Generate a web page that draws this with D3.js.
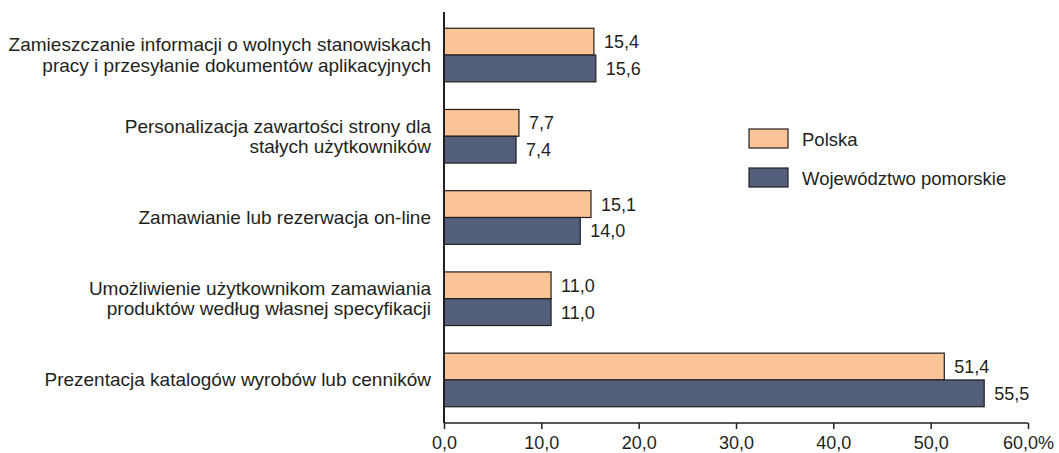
<!DOCTYPE html>
<html>
<head>
<meta charset="utf-8">
<script src="https://cdn.jsdelivr.net/npm/d3@7"></script>
<style>
  body { margin: 0; background: #fff; }
  text { font-family: "Liberation Sans", Arial, sans-serif; fill: #231f20; }
</style>
</head>
<body>
<div class="chart"></div>
<script>
var categories = [
    ["Zamieszczanie informacji o wolnych stanowiskach", "pracy i przesyłanie dokumentów aplikacyjnych"],
    ["Personalizacja zawartości strony dla", "stałych użytkowników"],
    ["Zamawianie lub rezerwacja on-line"],
    ["Umożliwienie użytkownikom zamawiania", "produktów według własnej specyfikacji"],
    ["Prezentacja katalogów wyrobów lub cenników"]
];
var polska = [15.4, 7.7, 15.1, 11.0, 51.4];
var pomorskie = [15.6, 7.4, 14.0, 11.0, 55.5];
var seriesNames = ["Polska", "Województwo pomorskie"];
var colors = ["#fbc496", "#535f7b"];
var ticks = [0, 10, 20, 30, 40, 50, 60];

var width = 1059, height = 453;
var fmt = function (v) { return v.toFixed(1).replace(".", ","); };

var svg = d3.select(".chart").append("svg")
    .attr("width", width)
    .attr("height", height);

var x = d3.scaleLinear().domain([0, 60]).range([444, 1028]);
var y = d3.scaleBand().domain(d3.range(categories.length)).range([12, 423])
    .paddingInner(0.34).paddingOuter(0.2);
var bh = y.bandwidth() / 2;

var groups = svg.selectAll(".grp")
    .data(categories)
    .enter().append("g")
    .attr("class", "grp")
    .attr("transform", function (d, i) { return "translate(0," + y(i) + ")"; });

[polska, pomorskie].forEach(function (vals, s) {
    groups.append("rect")
        .attr("x", x(0))
        .attr("y", s * bh)
        .attr("width", function (d, i) { return x(vals[i]) - x(0); })
        .attr("height", bh)
        .attr("fill", colors[s])
        .attr("stroke", "#231f20")
        .attr("stroke-width", 1.2);
    groups.append("text")
        .attr("x", function (d, i) { return x(vals[i]) + 10; })
        .attr("y", s * bh + bh / 2 + 6.5)
        .attr("font-size", 18)
        .text(function (d, i) { return fmt(vals[i]); });
});

// category labels
groups.append("text")
    .attr("text-anchor", "end")
    .attr("font-size", 19)
    .each(function (d) {
        var t = d3.select(this);
        var n = d.length;
        d.forEach(function (line, k) {
            t.append("tspan")
                .attr("x", 431)
                .attr("y", bh + 6.5 + (k - (n - 1) / 2) * 20.5)
                .text(line);
        });
    });

// axes
var xAxis = d3.axisBottom(x).tickValues(ticks).tickSize(6)
    .tickFormat(function (d) { return fmt(d) + (d === 60 ? "%" : ""); });
var gx = svg.append("g").attr("transform", "translate(0,423)").call(xAxis);
gx.select(".domain").attr("stroke", "#231f20").attr("stroke-width", 1.5)
    .attr("d", "M" + x(0) + ",0H" + x(60));
gx.selectAll(".tick line").attr("stroke", "#231f20").attr("stroke-width", 1.5);
gx.selectAll(".tick text").attr("font-size", 18).attr("y", 26).attr("dy", 0).attr("fill", "#231f20");

svg.append("line")
    .attr("x1", x(0)).attr("x2", x(0))
    .attr("y1", 12).attr("y2", 423)
    .attr("stroke", "#231f20").attr("stroke-width", 2);

// legend
var legend = svg.selectAll(".leg")
    .data(seriesNames)
    .enter().append("g")
    .attr("class", "leg")
    .attr("transform", function (d, i) { return "translate(749," + (129 + i * 39) + ")"; });
legend.append("rect")
    .attr("width", 39).attr("height", 19)
    .attr("fill", function (d, i) { return colors[i]; })
    .attr("stroke", "#231f20").attr("stroke-width", 1.2);
legend.append("text")
    .attr("x", 53).attr("y", 16.5)
    .attr("font-size", 18.5)
    .text(function (d) { return d; });
</script>
</body>
</html>
